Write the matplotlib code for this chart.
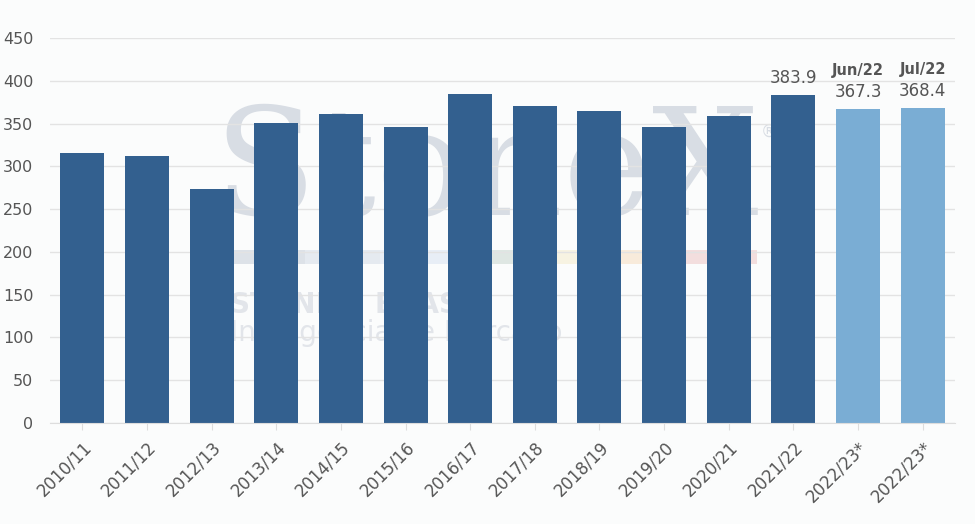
import numpy as np
import matplotlib.pyplot as plt

# Data
seasons = ['2010/11', '2011/12', '2012/13', '2013/14', '2014/15', '2015/16', '2016/17',
           '2017/18', '2018/19', '2019/20', '2020/21', '2021/22', '2022/23*', '2022/23*']
values = [316, 312, 273.5, 351, 361, 346, 384.5, 370.5, 364.6, 346, 358.5, 383.9, 367.3, 368.4]
projected = [False] * 12 + [True, True]
labelled = {11: '383.9', 12: '367.3', 13: '368.4'}
forecast_names = {12: 'Jun/22', 13: 'Jul/22'}

dark = '#33608f'
light = '#7aadd4'
colors = [light if p else dark for p in projected]

fig = plt.figure(figsize=(9.75, 5.24), dpi=100)
fig.patch.set_facecolor('#fbfcfc')
ax = fig.add_axes([50 / 975, 101 / 524, 905 / 975, 385 / 524])
ax.set_facecolor('#fbfcfc')

x = np.arange(len(seasons))
# faint logo watermark behind the bars
ax.text(6.25, 243, 'StoneX', fontsize=108, family='DejaVu Serif', color='#d8dde4',
        ha='center', va='baseline', zorder=0.5)
ax.text(10.5, 335, '®', fontsize=12, color='#d8dde4', zorder=0.5)
strip = ['#dde2e8', '#e5eaf0', '#e8eef6', '#dfe7e3', '#f7f3e2', '#f8ebdb', '#f3dede']
step = (10.44 - 2.28) / len(strip)
for i, c in enumerate(strip):
    ax.fill_between([2.28 + i * step, 2.28 + (i + 1) * step], 186, 202, color=c, zorder=0.5, lw=0)
ax.text(2.28, 128, 'STONEX  BRASIL', fontsize=20, fontweight='bold', color='#e2e5ea', zorder=0.5)
ax.text(2.28, 96, 'Inteligência de Mercado', fontsize=20, color='#e2e5ea', zorder=0.5)

ax.bar(x, values, width=0.68, color=colors, zorder=2, edgecolor='none')

for i, txt in labelled.items():
    ax.text(i, values[i] + 9, txt, ha='center', va='bottom', fontsize=12, color='#555555', zorder=3)
for i, txt in forecast_names.items():
    ax.text(i, values[i] + 36, txt, ha='center', va='bottom', fontsize=10.5, fontweight='bold',
            color='#555555', zorder=3)

ax.set_xlim(-0.5, len(seasons) - 0.5)
ax.set_ylim(0, 450)
ax.set_yticks(range(0, 451, 50))
ax.yaxis.grid(True, color='#e3e3e3', lw=1)
ax.set_axisbelow(True)
for s in ['top', 'right', 'left']:
    ax.spines[s].set_visible(False)
ax.spines['bottom'].set_color('#dddddd')
ax.tick_params(axis='y', length=0, labelsize=11.5, labelcolor='#555555', pad=12)
ax.tick_params(axis='x', length=5, color='#dddddd', labelsize=12, labelcolor='#555555', pad=6)
ax.set_xticks(x)
ax.set_xticklabels(seasons, rotation=45, ha='right', rotation_mode='anchor')

fig.savefig('out.png', dpi=100, facecolor=fig.get_facecolor())
